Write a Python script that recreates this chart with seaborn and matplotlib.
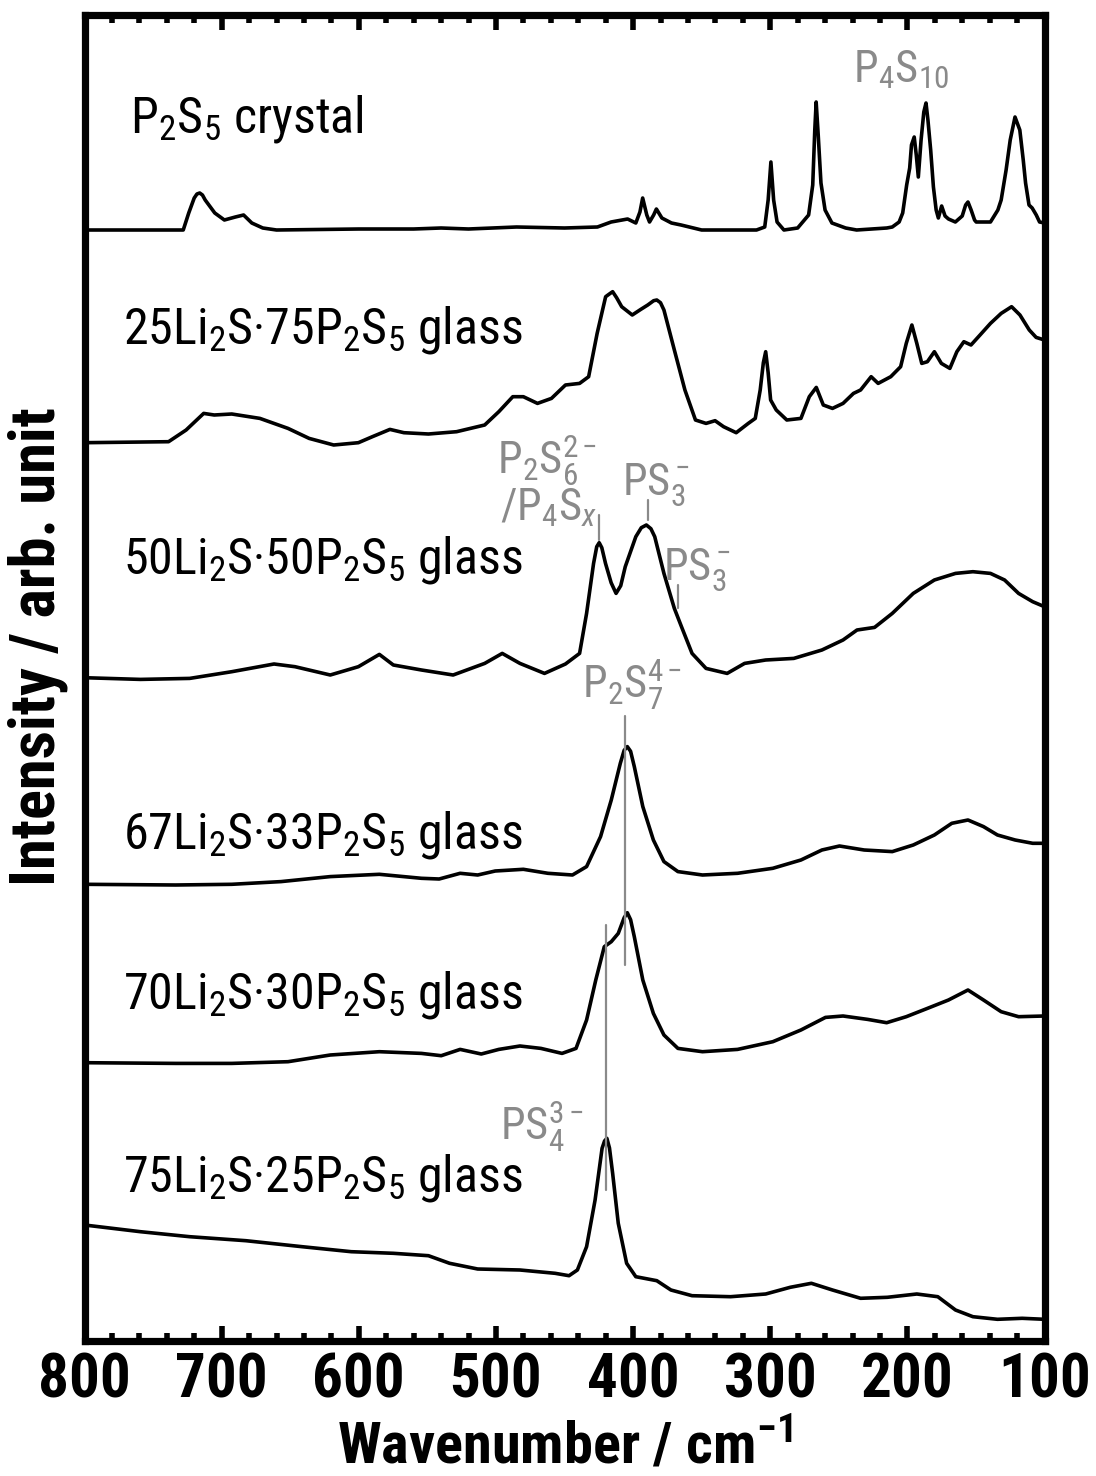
import numpy as np
import pandas as pd
import matplotlib
matplotlib.use("Agg")
import matplotlib.pyplot as plt
from matplotlib import font_manager as fm
import seaborn as sns

# ---------------------------------------------------------------
# Raman spectra (wavenumber in cm^-1, intensity in arb. units)
# ---------------------------------------------------------------
p2s5_w = [800, 760, 728, 724, 720, 718, 716, 714, 712, 705, 698, 690, 684, 678,
          670, 660, 600, 560, 540, 520, 485, 450, 426, 416, 404, 398, 395, 393,
          390, 388, 385, 383, 379, 372, 365, 350, 310, 304, 301.5, 299.5, 297.5,
          295, 290, 280, 272, 269, 267.5, 266.5, 265, 263, 260, 255, 245, 237,
          215, 211, 206, 203.4, 200.5, 198.3, 197, 195, 193.5, 192, 190, 188,
          186.4, 185, 183, 181, 179, 177.4, 175, 172.5, 170, 165, 160, 157.5,
          155.8, 153.5, 151, 149.8, 145, 139.4, 134, 131.6, 128, 125, 121.5,
          118, 115.5, 113.8, 111.3, 109, 106, 103.6, 100]
p2s5_i = [0, 0, 0, 17, 32, 36, 37, 35, 30, 17, 10, 13, 15, 7,
          2, 0, 1, 1, 2, 1, 3, 2, 3, 8, 11, 7, 18, 32,
          15, 8, 15, 21, 12, 7, 5, 0, 0, 3, 30, 68, 30,
          8, 0, 2, 15, 45, 100, 128, 95, 47, 20, 7, 2, 0,
          2, 3, 8, 17, 45, 62, 85, 93, 75, 53, 90, 118,
          127, 110, 80, 43, 20, 12, 24, 14, 11, 8, 14, 25,
          28, 20, 10, 8, 8, 8, 20, 30, 60, 90, 113,
          100, 70, 47, 25, 22, 15, 8, 7]

g25_w = [800, 738.7, 725.9, 713.1, 705.4, 692.6, 672.1, 651.6, 636.2, 618.3,
         600.3, 590.1, 577.3, 567.1, 549.2, 528.7, 508.2, 497.9, 487.7, 480,
         469.7, 459.5, 449.3, 439, 432.4, 426.2, 420, 417, 414.9, 412, 408.3,
         400.6, 394.4, 389.3, 385, 382.7, 380, 377.5, 369.9, 362.2, 354.5,
         346.8, 340.2, 334, 324.8, 316, 310.9, 307.3, 305, 303.3, 301.5, 299.7,
         295.6, 287.9, 277.6, 271.5, 266.4, 261.3, 254.6, 246.9, 239.3, 234.1,
         226.4, 221.3, 212.1, 204.9, 200.8, 196.7, 193.1, 189.5, 185.4, 180.3,
         175.2, 169, 163.9, 158.8, 153.6, 147, 139.4, 131.6, 124, 117.9, 111.1,
         106.1, 100]
g25_i = [0, 1, 12.7, 29.3, 27.7, 28.7, 24.3, 14.3, 4.3, -2.3,
         0, 6, 13.3, 10, 8.7, 11, 17.7, 31, 46, 46,
         39.3, 44.3, 57.7, 59.3, 66, 109.3, 146, 149, 151, 145, 136,
         127.7, 133.3, 137.7, 142, 142.7, 140, 132.7, 92.7, 52.7, 22.7,
         19.3, 22, 16, 10, 19.3, 24.3, 52.7, 80, 91, 70, 42.7,
         32.7, 22.7, 24.3, 46, 55.3, 37.7, 34.3, 39.3, 49.3, 52.7,
         66, 59.3, 66, 76, 99.3, 117.7, 99.3, 79.3, 81, 91,
         79.3, 74.3, 91, 101, 97.7, 107.7, 119.3, 129.3, 136, 127.7, 112.7,
         105.3, 102.7]

g50_w = [800, 759.2, 723.3, 692.6, 661.8, 646.5, 620.8, 600.3, 585, 574.8,
         554.3, 531.2, 508.2, 495.4, 482.5, 464.6, 449.3, 439, 433.9, 428.8,
         426.5, 424.7, 422.8, 420.1, 416, 412.4, 409, 405.7, 398, 394, 390.3,
         387, 384.2, 377.5, 369.9, 364.7, 357, 346.8, 331.4, 318.7, 303.3,
         282.8, 262.3, 246.9, 236.7, 223.9, 211, 195.7, 180.3, 164.9, 152.2,
         139.4, 129.1, 118.9, 108.6, 100]
g50_i = [0, -1.7, -0.7, 6, 13.7, 11, 2.7, 11, 23.3, 12.7,
         7.7, 2.7, 14.3, 24.3, 14.3, 4.3, 13.7, 24.3, 64.3, 114.3,
         131, 135, 130, 114.3, 95, 84.3, 92, 111, 141, 150, 152.7,
         149, 141, 104.3, 69.3, 51, 24.3, 9.3, 4.3, 14.3, 17.7,
         19.3, 27.7, 37.7, 47.7, 50.3, 64.3, 84.3, 97.7, 104.3, 106,
         104.3, 97.7, 84.3, 76, 71]

g67_w = [800, 733.6, 692.6, 656.7, 620.8, 585, 554.3, 541.4, 526.1, 513.3,
         500.5, 480, 462.1, 444.2, 433.9, 423.7, 415.9, 409.3, 406.5, 404.2,
         401.8, 399.1, 392.9, 385.2, 377.5, 367.3, 349.4, 323.8, 298.1, 277.6,
         262.3, 249.5, 231.5, 211, 195.7, 180.3, 167.6, 155.8, 144.5, 134.3,
         121.4, 108.6, 100]
g67_i = [0, -0.7, 0, 2.7, 7.7, 10, 6, 5.3, 11, 9.3,
         13.3, 15, 11, 9.3, 17.7, 47.7, 84.3, 121, 134, 137.7,
         133, 117.7, 77.7, 44.3, 22.7, 12.7, 9.3, 11, 16, 24.3,
         34.3, 38.3, 34.3, 32.7, 39.3, 49.3, 61, 64.3, 57.7, 49.3,
         44.3, 41, 41]

g70_w = [800, 733.6, 692.6, 651.6, 620.8, 585, 554.3, 539.9, 526.1, 510.7,
         497.9, 482.5, 467.2, 451.8, 441.6, 433.9, 427.2, 421, 415.9, 410.8,
         406.5, 404.2, 401.8, 399.1, 392.9, 385.2, 377.5, 367.3, 349.4, 323.8,
         298.1, 277.6, 259.7, 246.9, 228.9, 215.1, 200.8, 185.4, 170, 155.8,
         144.5, 131.6, 118.9, 100]
g70_i = [0, -0.7, -0.7, 1, 7.7, 11, 9.3, 7, 13.3, 8.7,
         13.3, 16.7, 14.3, 9.3, 14.3, 42.7, 82.7, 116, 121, 129.3,
         145, 150, 143, 126, 82.7, 49.3, 27.7, 14.3, 11, 13.3,
         21, 32.7, 45.3, 46.7, 43.3, 40, 46, 54.3, 62.7, 72.7,
         62.7, 51, 46, 46.7]

g75_w = [800, 759.2, 723.3, 682.3, 641.3, 605.5, 574.8, 549.2, 533.8, 513.3,
         482.5, 456.9, 446.7, 440.6, 433.9, 427.7, 422.6, 420.8, 419.1, 417.2,
         414.9, 410.8, 404.7, 398, 382.7, 372.4, 357, 328.9, 303.3, 285.4, 270,
         254.6, 234.1, 214.6, 193.1, 177.8, 164.9, 152.2, 134.3, 116.3, 100]
g75_i = [95, 88.3, 83.3, 79.3, 73.3, 68.3, 66.7, 64.3, 56.7, 51,
         50, 46.7, 44.3, 50, 73.3, 120, 171.7, 179, 181.7, 172,
         146.7, 96.7, 56.7, 43.3, 39.3, 30, 24.3, 23.3, 26, 32.7, 36.7,
         30, 21.7, 22.7, 26, 23.3, 10, 3.3, 0.7, 1.7, 0.7]

samples = ["P$_2$S$_5$ crystal",
           "25Li$_2$S·75P$_2$S$_5$ glass",
           "50Li$_2$S·50P$_2$S$_5$ glass",
           "67Li$_2$S·33P$_2$S$_5$ glass",
           "70Li$_2$S·30P$_2$S$_5$ glass",
           "75Li$_2$S·25P$_2$S$_5$ glass"]
wavenumbers = [p2s5_w, g25_w, g50_w, g67_w, g70_w, g75_w]
intensities = [p2s5_i, g25_i, g50_i, g67_i, g70_i, g75_i]
offsets = [1110.5, 897.8, 662.8, 456.2, 277.8, 20.5]

# ---------------------------------------------------------------
# Fonts: prefer a narrow sans face
# ---------------------------------------------------------------
sns.set_theme(style="ticks")
installed = {f.name for f in fm.fontManager.ttflist}
candidates = ["Liberation Sans Narrow", "Arial Narrow", "Roboto Condensed",
              "Open Sans Condensed", "Noto Sans Condensed",
              "DejaVu Sans Condensed", "Noto Sans Display Condensed"]
narrow = next((c for c in candidates if c in installed), None)
is_narrow = narrow is not None
if narrow is None:
    narrow = "Liberation Sans"
plt.rcParams["font.family"] = [narrow, "DejaVu Sans"]
if is_narrow:
    plt.rcParams["font.stretch"] = "condensed"
plt.rcParams["mathtext.fontset"] = "custom"
plt.rcParams["mathtext.rm"] = narrow
plt.rcParams["mathtext.it"] = narrow + ":italic"
plt.rcParams["mathtext.bf"] = narrow + ":bold"
for key in ("text.color", "axes.labelcolor", "xtick.color", "ytick.color",
            "axes.edgecolor"):
    plt.rcParams[key] = "black"
# wide faces need a smaller size to keep the same text widths
k = 1.0 if is_narrow else 0.84

# ---------------------------------------------------------------
# Long-form table of stacked spectra
# ---------------------------------------------------------------
frames = []
for name, w, inten, off in zip(samples, wavenumbers, intensities, offsets):
    frames.append(pd.DataFrame({"wavenumber": w,
                                "intensity": np.asarray(inten) + off,
                                "sample": name}))
df = pd.concat(frames, ignore_index=True)

fig = plt.figure(figsize=(10.96, 14.76), dpi=100)
ax = fig.add_axes([84.5 / 1096, 1 - 1340.5 / 1476, 960 / 1096, 1326 / 1476])

sns.lineplot(data=df, x="wavenumber", y="intensity", hue="sample",
             palette=["black"] * len(samples), estimator=None, sort=False,
             legend=False, linewidth=2.6, ax=ax)

ax.set_xlim(800, 100)
ax.set_ylim(0, 1326)
ax.set_yticks([])
ax.set_xticks(np.arange(100, 801, 100))
ax.set_xticks(np.arange(100, 801, 20), minor=True)
ax.tick_params(axis="x", which="both", direction="in", top=True, bottom=True,
               width=4, labelsize=44 * k, pad=8, colors="black")
ax.tick_params(axis="x", which="major", length=11)
ax.tick_params(axis="x", which="minor", length=5.5)
for lab in ax.get_xticklabels():
    lab.set_fontweight("bold")
for sp in ax.spines.values():
    sp.set_linewidth(5.2)
    sp.set_color("black")

ax.set_xlabel("Wavenumber / cm$^{\\mathbf{-1}}$", fontsize=42 * k,
              fontweight="bold", labelpad=6)
ax.set_ylabel("")
fig.text(38 / 1096, 1 - 647 / 1476, "Intensity / arb. unit", rotation=90,
         ha="center", va="center", fontsize=45 * k, fontweight="bold")

# sample names
name_pos = [(766.8, 1208.5), (771.9, 997.5), (771.9, 767.5),
            (771.9, 492.5), (771.9, 332.5), (771.9, 148.5)]
for name, (xw, yv) in zip(samples, name_pos):
    ax.text(xw, yv, name, fontsize=36 * k, ha="left", va="baseline")

# band assignments
gray = "#8a8a8a"
band_labels = [("P$_4$S$_{10}$", 239.7, 1258.5),
               ("P$_2$S$_6^{2-}$", 499.2, 866.5),
               ("/P$_4$S$_x$", 497.0, 820.5),
               ("PS$_3^-$", 408.0, 845.5),
               ("PS$_3^-$", 378.0, 760.5),
               ("P$_2$S$_7^{4-}$", 437.2, 642.5),
               ("PS$_4^{3-}$", 497.0, 200.5)]
for txt, xw, yv in band_labels:
    ax.text(xw, yv, txt, fontsize=32 * k, color=gray, ha="left",
            va="baseline")

band_marks = [(424.7, 800.5, 825.5), (389.3, 820.5, 840.5),
              (367.2, 732.5, 755.5), (406.2, 375.5, 624.5),
              (420.1, 150.5, 415.5)]
for xw, y0, y1 in band_marks:
    ax.plot([xw, xw], [y0, y1], color=gray, linewidth=1.6)

fig.savefig("out.png", dpi=100)
